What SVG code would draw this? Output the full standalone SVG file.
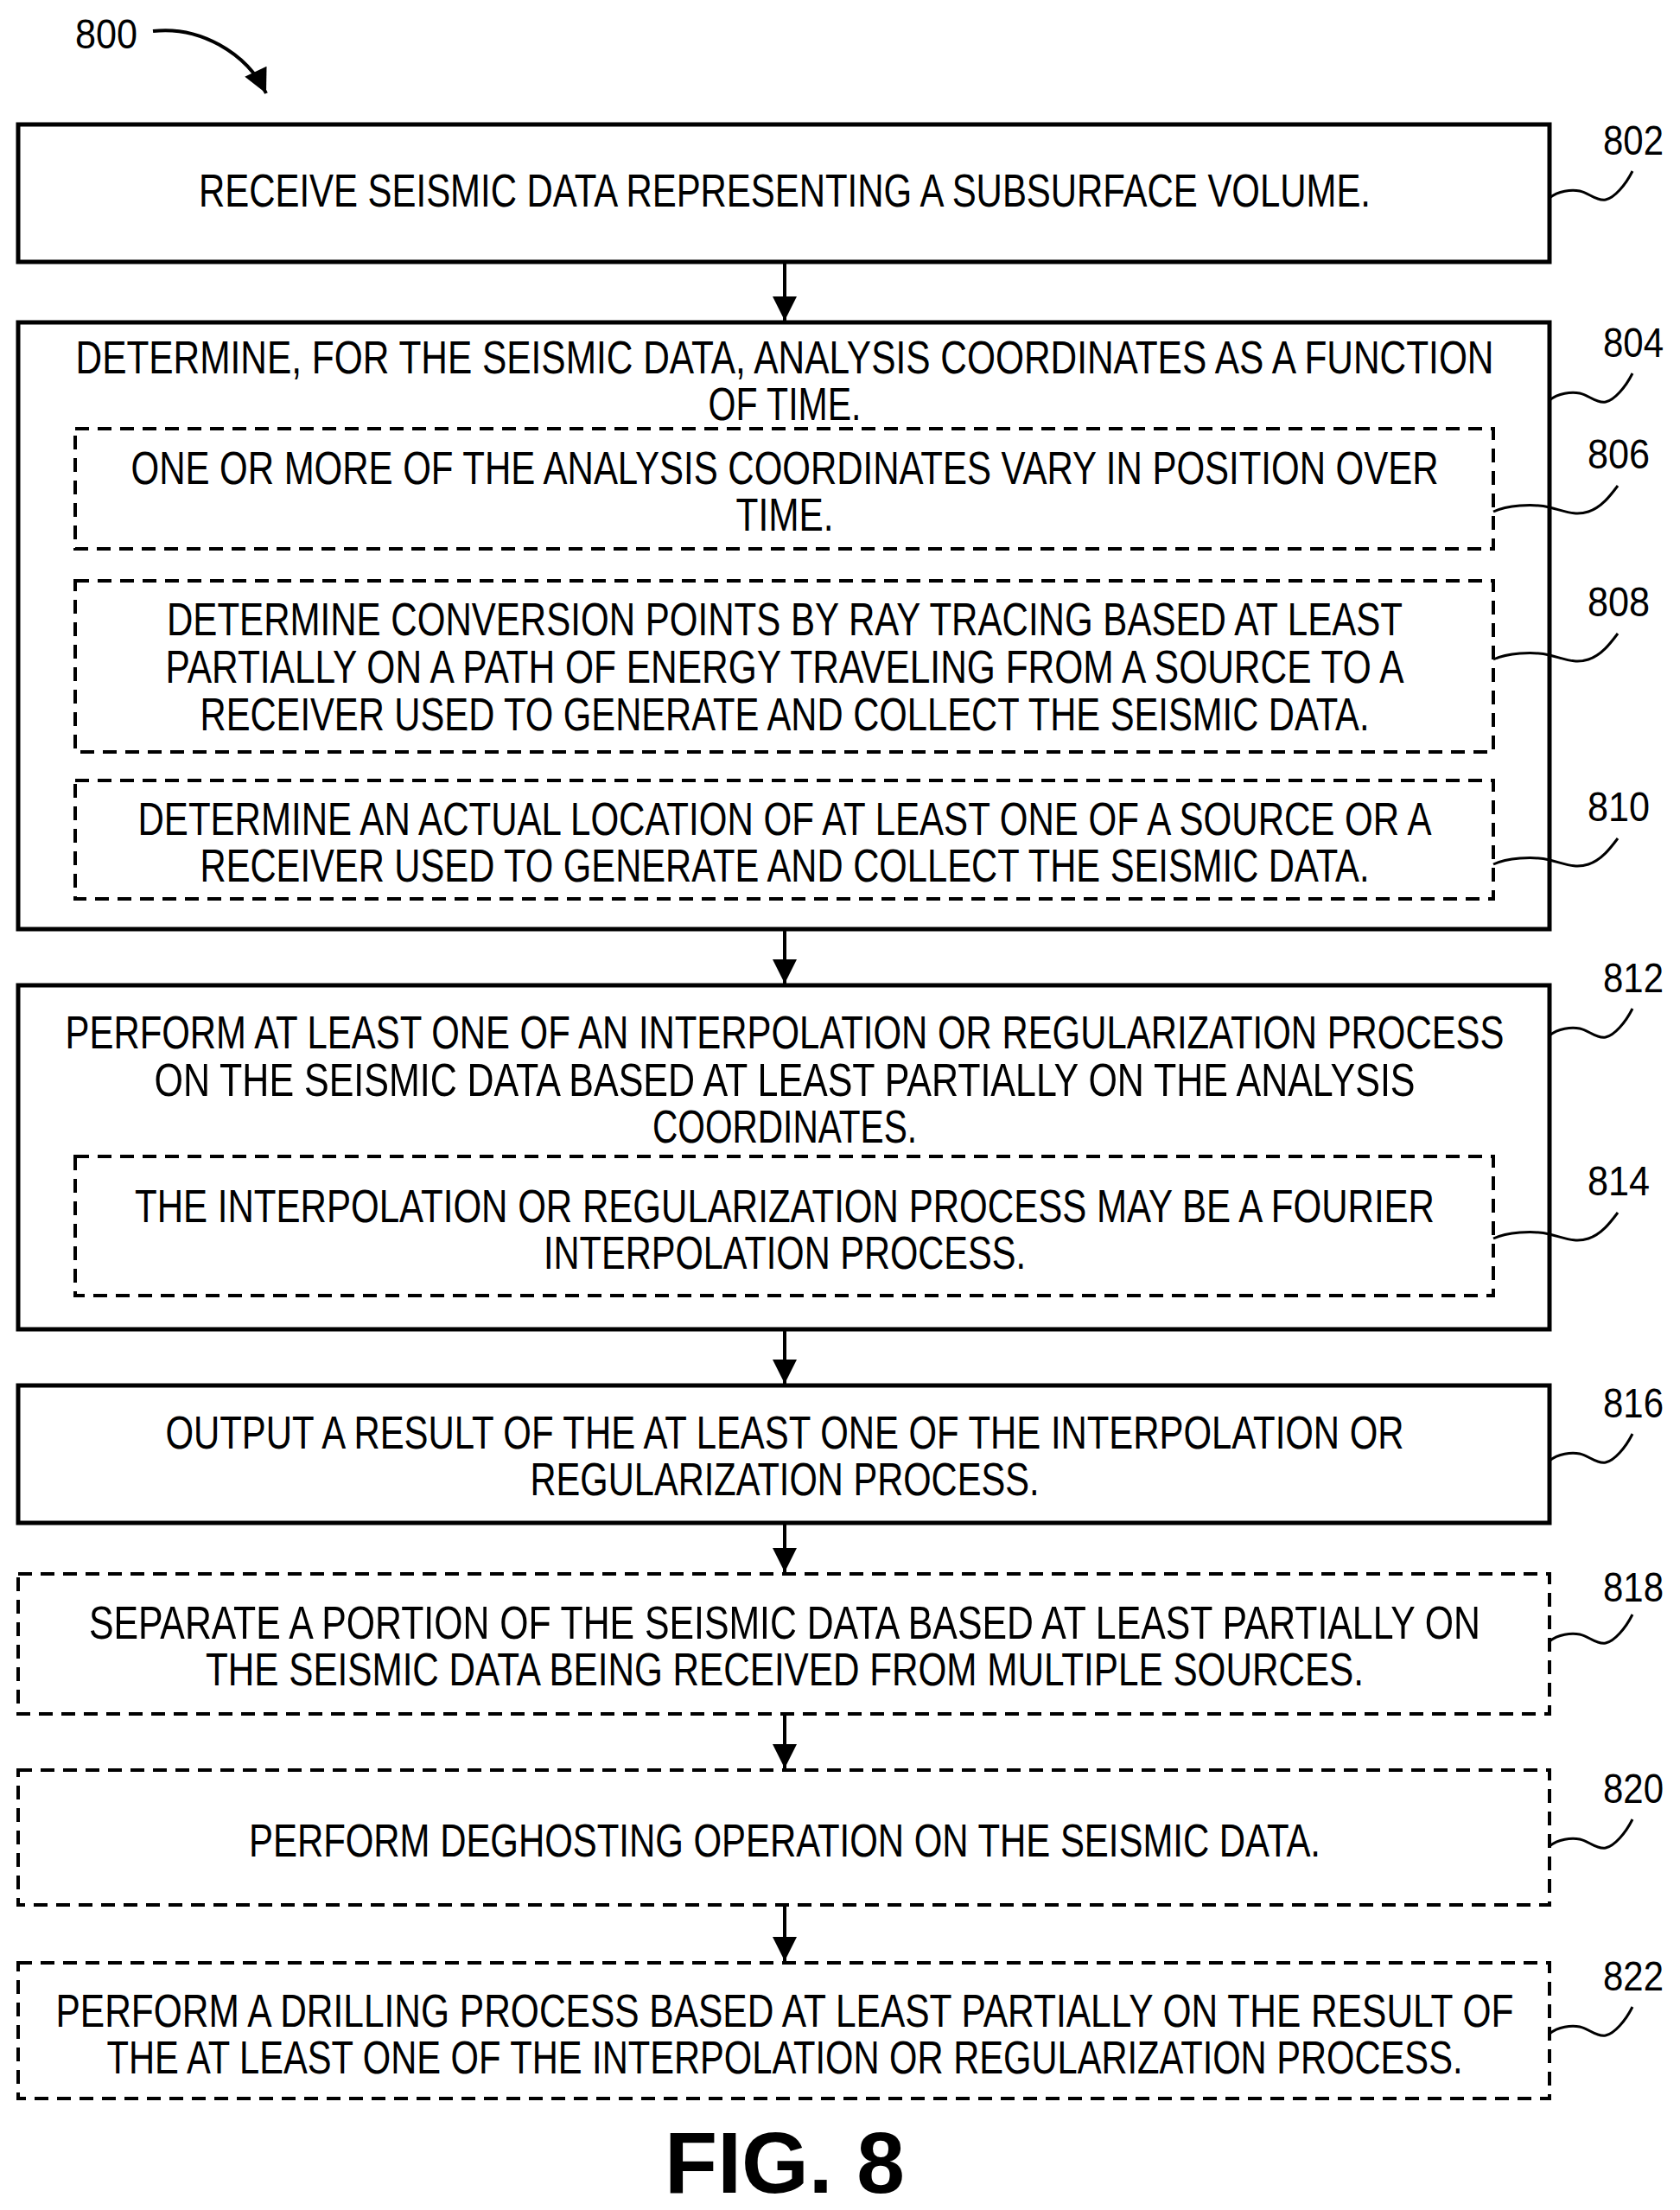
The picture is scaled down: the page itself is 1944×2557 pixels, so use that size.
<svg xmlns="http://www.w3.org/2000/svg" width="1944" height="2557" viewBox="0 0 1944 2557">
<style>
.b{fill:#fff;stroke:#000;stroke-width:5}
.d{fill:#fff;stroke:#000;stroke-width:4;stroke-dasharray:16 10}
.t{font-family:"Liberation Sans",Arial,sans-serif;font-size:54px;fill:#000;text-anchor:middle}
.n{font-family:"Liberation Sans",Arial,sans-serif;font-size:48px;fill:#000;text-anchor:middle}
.s{fill:none;stroke:#000;stroke-width:3}
.c{stroke:#000;stroke-width:4;fill:none}
</style>
<defs>
<marker id="a" viewBox="0 0 10 10" refX="10" refY="5" markerWidth="30" markerHeight="28" markerUnits="userSpaceOnUse" orient="auto"><path d="M0,0L10,5L0,10z"/></marker>
<path id="sq" d="M0,0 C10,-8 25,-10 35,-8 S55,4 65,2 S88,-15 96,-31"/>
<path id="sqi" d="M0,0 C15,-7 45,-10 65,-5 S95,5 110,0 S135,-18 144,-30"/>
</defs>
<g id="n800"><text class="n" x="123" y="56" textLength="72" lengthAdjust="spacingAndGlyphs">800</text><path class="c" d="M177,36 C230,30 285,60 308,108" marker-end="url(#a)"/></g>
<g id="n802"><rect class="b" x="21" y="144" width="1772" height="159"/>
<text class="t" x="908" y="239" textLength="1356" lengthAdjust="spacingAndGlyphs">RECEIVE SEISMIC DATA REPRESENTING A SUBSURFACE VOLUME.</text>
<text class="n" x="1890" y="179" textLength="70" lengthAdjust="spacingAndGlyphs">802</text><use href="#sq" class="s" transform="translate(1793,229)"/></g>
<g id="n804"><rect class="b" x="21" y="373" width="1772" height="702"/>
<text class="t" x="908" y="432" textLength="1641" lengthAdjust="spacingAndGlyphs">DETERMINE, FOR THE SEISMIC DATA, ANALYSIS COORDINATES AS A FUNCTION</text>
<text class="t" x="908" y="486" textLength="177" lengthAdjust="spacingAndGlyphs">OF TIME.</text>
<text class="n" x="1890" y="413" textLength="70" lengthAdjust="spacingAndGlyphs">804</text><use href="#sq" class="s" transform="translate(1793,463)"/></g>
<g id="n806"><rect class="d" x="87" y="496" width="1641" height="139"/>
<text class="t" x="908" y="560" textLength="1513" lengthAdjust="spacingAndGlyphs">ONE OR MORE OF THE ANALYSIS COORDINATES VARY IN POSITION OVER</text>
<text class="t" x="908" y="614" textLength="113" lengthAdjust="spacingAndGlyphs">TIME.</text>
<text class="n" x="1873" y="542" textLength="72" lengthAdjust="spacingAndGlyphs">806</text><use href="#sqi" class="s" transform="translate(1728,592)"/></g>
<g id="n808"><rect class="d" x="87" y="672" width="1641" height="198"/>
<text class="t" x="908" y="735" textLength="1430" lengthAdjust="spacingAndGlyphs">DETERMINE CONVERSION POINTS BY RAY TRACING BASED AT LEAST</text>
<text class="t" x="908" y="790" textLength="1433" lengthAdjust="spacingAndGlyphs">PARTIALLY ON A PATH OF ENERGY TRAVELING FROM A SOURCE TO A</text>
<text class="t" x="908" y="845" textLength="1353" lengthAdjust="spacingAndGlyphs">RECEIVER USED TO GENERATE AND COLLECT THE SEISMIC DATA.</text>
<text class="n" x="1873" y="713" textLength="72" lengthAdjust="spacingAndGlyphs">808</text><use href="#sqi" class="s" transform="translate(1728,763)"/></g>
<g id="n810"><rect class="d" x="87" y="903" width="1641" height="137"/>
<text class="t" x="908" y="966" textLength="1497" lengthAdjust="spacingAndGlyphs">DETERMINE AN ACTUAL LOCATION OF AT LEAST ONE OF A SOURCE OR A</text>
<text class="t" x="908" y="1020" textLength="1353" lengthAdjust="spacingAndGlyphs">RECEIVER USED TO GENERATE AND COLLECT THE SEISMIC DATA.</text>
<text class="n" x="1873" y="950" textLength="72" lengthAdjust="spacingAndGlyphs">810</text><use href="#sqi" class="s" transform="translate(1728,1000)"/></g>
<g id="n812"><rect class="b" x="21" y="1140" width="1772" height="398"/>
<text class="t" x="908" y="1213" textLength="1665" lengthAdjust="spacingAndGlyphs">PERFORM AT LEAST ONE OF AN INTERPOLATION OR REGULARIZATION PROCESS</text>
<text class="t" x="908" y="1268" textLength="1459" lengthAdjust="spacingAndGlyphs">ON THE SEISMIC DATA BASED AT LEAST PARTIALLY ON THE ANALYSIS</text>
<text class="t" x="908" y="1322" textLength="306" lengthAdjust="spacingAndGlyphs">COORDINATES.</text>
<text class="n" x="1890" y="1148" textLength="70" lengthAdjust="spacingAndGlyphs">812</text><use href="#sq" class="s" transform="translate(1793,1198)"/></g>
<g id="n814"><rect class="d" x="87" y="1338" width="1641" height="161"/>
<text class="t" x="908" y="1414" textLength="1504" lengthAdjust="spacingAndGlyphs">THE INTERPOLATION OR REGULARIZATION PROCESS MAY BE A FOURIER</text>
<text class="t" x="908" y="1468" textLength="558" lengthAdjust="spacingAndGlyphs">INTERPOLATION PROCESS.</text>
<text class="n" x="1873" y="1383" textLength="72" lengthAdjust="spacingAndGlyphs">814</text><use href="#sqi" class="s" transform="translate(1728,1433)"/></g>
<g id="n816"><rect class="b" x="21" y="1603" width="1772" height="159"/>
<text class="t" x="908" y="1676" textLength="1433" lengthAdjust="spacingAndGlyphs">OUTPUT A RESULT OF THE AT LEAST ONE OF THE INTERPOLATION OR</text>
<text class="t" x="908" y="1730" textLength="589" lengthAdjust="spacingAndGlyphs">REGULARIZATION PROCESS.</text>
<text class="n" x="1890" y="1640" textLength="70" lengthAdjust="spacingAndGlyphs">816</text><use href="#sq" class="s" transform="translate(1793,1690)"/></g>
<g id="n818"><rect class="d" x="21" y="1821" width="1772" height="162"/>
<text class="t" x="908" y="1896" textLength="1610" lengthAdjust="spacingAndGlyphs">SEPARATE A PORTION OF THE SEISMIC DATA BASED AT LEAST PARTIALLY ON</text>
<text class="t" x="908" y="1950" textLength="1340" lengthAdjust="spacingAndGlyphs">THE SEISMIC DATA BEING RECEIVED FROM MULTIPLE SOURCES.</text>
<text class="n" x="1890" y="1853" textLength="70" lengthAdjust="spacingAndGlyphs">818</text><use href="#sq" class="s" transform="translate(1793,1899)"/></g>
<g id="n820"><rect class="d" x="21" y="2048" width="1772" height="156"/>
<text class="t" x="908" y="2148" textLength="1240" lengthAdjust="spacingAndGlyphs">PERFORM DEGHOSTING OPERATION ON THE SEISMIC DATA.</text>
<text class="n" x="1890" y="2086" textLength="70" lengthAdjust="spacingAndGlyphs">820</text><use href="#sq" class="s" transform="translate(1793,2136)"/></g>
<g id="n822"><rect class="d" x="21" y="2271" width="1772" height="157"/>
<text class="t" x="908" y="2345" textLength="1687" lengthAdjust="spacingAndGlyphs">PERFORM A DRILLING PROCESS BASED AT LEAST PARTIALLY ON THE RESULT OF</text>
<text class="t" x="908" y="2399" textLength="1569" lengthAdjust="spacingAndGlyphs">THE AT LEAST ONE OF THE INTERPOLATION OR REGULARIZATION PROCESS.</text>
<text class="n" x="1890" y="2303" textLength="70" lengthAdjust="spacingAndGlyphs">822</text><use href="#sq" class="s" transform="translate(1793,2353)"/></g>
<g id="connectors">
<path class="c" d="M908,303V371" marker-end="url(#a)"/>
<path class="c" d="M908,1075V1138" marker-end="url(#a)"/>
<path class="c" d="M908,1538V1601" marker-end="url(#a)"/>
<path class="c" d="M908,1762V1819" marker-end="url(#a)"/>
<path class="c" d="M908,1983V2046" marker-end="url(#a)"/>
<path class="c" d="M908,2204V2269" marker-end="url(#a)"/>
</g>
<text x="908" y="2537" font-family="Liberation Sans,Arial,sans-serif" font-weight="bold" font-size="100" text-anchor="middle">FIG. 8</text>
</svg>
